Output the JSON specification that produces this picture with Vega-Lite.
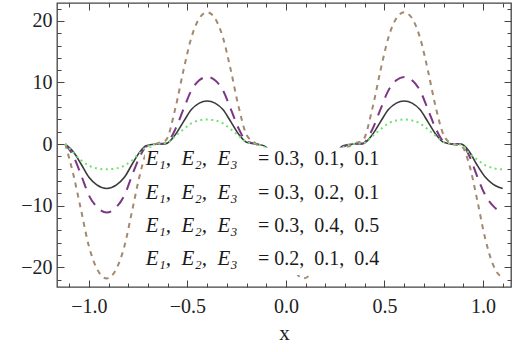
{
  "$schema": "https://vega.github.io/schema/vega-lite/v6.json",
  "width": 454,
  "height": 284,
  "autosize": "none",
  "padding": {"left": 57, "top": 3, "right": 3, "bottom": 65},
  "config": {
    "view": {"stroke": "#444444", "strokeWidth": 1.3},
    "axis": {"domain": false, "grid": false, "labelFont": "Liberation Serif", "labelFontSize": 20, "labelColor": "#222222", "titleFont": "Liberation Serif", "tickColor": "#444444", "tickWidth": 1}
  },
  "datasets": {
    "curves": [
      {"x":-1.12,"s":"k","y":0},{"x":-1.08,"s":"k","y":-1.22},{"x":-1.04,"s":"k","y":-3.24},{"x":-1.00,"s":"k","y":-5.4},{"x":-0.96,"s":"k","y":-6.62},{"x":-0.91,"s":"k","y":-7.2},{"x":-0.86,"s":"k","y":-6.62},{"x":-0.82,"s":"k","y":-5.4},{"x":-0.78,"s":"k","y":-3.24},{"x":-0.74,"s":"k","y":-1.22},{"x":-0.71,"s":"k","y":-0.29},{"x":-0.66,"s":"k","y":0},{"x":-0.61,"s":"k","y":0.07},{"x":-0.56,"s":"k","y":1.61},{"x":-0.52,"s":"k","y":3.64},{"x":-0.48,"s":"k","y":5.6},{"x":-0.44,"s":"k","y":6.65},{"x":-0.40,"s":"k","y":7.0},{"x":-0.36,"s":"k","y":6.65},{"x":-0.32,"s":"k","y":5.6},{"x":-0.28,"s":"k","y":3.64},{"x":-0.24,"s":"k","y":1.61},{"x":-0.20,"s":"k","y":0.28},{"x":-0.15,"s":"k","y":0},{"x":-0.11,"s":"k","y":-0.29},{"x":-0.07,"s":"k","y":-1.66},{"x":-0.03,"s":"k","y":-3.74},{"x":0.01,"s":"k","y":-5.76},{"x":0.05,"s":"k","y":-6.84},{"x":0.09,"s":"k","y":-7.2},{"x":0.13,"s":"k","y":-6.84},{"x":0.17,"s":"k","y":-5.76},{"x":0.21,"s":"k","y":-3.74},{"x":0.25,"s":"k","y":-1.66},{"x":0.29,"s":"k","y":-0.29},{"x":0.34,"s":"k","y":0},{"x":0.39,"s":"k","y":0.07},{"x":0.44,"s":"k","y":1.61},{"x":0.48,"s":"k","y":3.64},{"x":0.52,"s":"k","y":5.6},{"x":0.56,"s":"k","y":6.65},{"x":0.60,"s":"k","y":7.0},{"x":0.64,"s":"k","y":6.65},{"x":0.68,"s":"k","y":5.6},{"x":0.72,"s":"k","y":3.64},{"x":0.76,"s":"k","y":1.61},{"x":0.80,"s":"k","y":0.28},{"x":0.845,"s":"k","y":0},{"x":0.89,"s":"k","y":0},{"x":0.93,"s":"k","y":-1.2},{"x":0.97,"s":"k","y":-3.4},{"x":1.01,"s":"k","y":-5.3},{"x":1.05,"s":"k","y":-6.5},{"x":1.08,"s":"k","y":-7.0},{"x":1.10,"s":"k","y":-7.2},
      {"x":-1.12,"s":"p","y":0},{"x":-1.08,"s":"p","y":-1.89},{"x":-1.04,"s":"p","y":-5.0},{"x":-1.00,"s":"p","y":-8.33},{"x":-0.96,"s":"p","y":-10.21},{"x":-0.91,"s":"p","y":-11.1},{"x":-0.86,"s":"p","y":-10.21},{"x":-0.82,"s":"p","y":-8.33},{"x":-0.78,"s":"p","y":-5.0},{"x":-0.74,"s":"p","y":-1.89},{"x":-0.71,"s":"p","y":-0.44},{"x":-0.66,"s":"p","y":0},{"x":-0.61,"s":"p","y":0.11},{"x":-0.56,"s":"p","y":2.51},{"x":-0.52,"s":"p","y":5.67},{"x":-0.48,"s":"p","y":8.72},{"x":-0.44,"s":"p","y":10.36},{"x":-0.40,"s":"p","y":10.9},{"x":-0.36,"s":"p","y":10.36},{"x":-0.32,"s":"p","y":8.72},{"x":-0.28,"s":"p","y":5.67},{"x":-0.24,"s":"p","y":2.51},{"x":-0.20,"s":"p","y":0.44},{"x":-0.15,"s":"p","y":0},{"x":-0.11,"s":"p","y":-0.44},{"x":-0.07,"s":"p","y":-2.55},{"x":-0.03,"s":"p","y":-5.77},{"x":0.01,"s":"p","y":-8.88},{"x":0.05,"s":"p","y":-10.55},{"x":0.09,"s":"p","y":-11.1},{"x":0.13,"s":"p","y":-10.55},{"x":0.17,"s":"p","y":-8.88},{"x":0.21,"s":"p","y":-5.77},{"x":0.25,"s":"p","y":-2.55},{"x":0.29,"s":"p","y":-0.44},{"x":0.34,"s":"p","y":0},{"x":0.39,"s":"p","y":0.11},{"x":0.44,"s":"p","y":2.51},{"x":0.48,"s":"p","y":5.67},{"x":0.52,"s":"p","y":8.72},{"x":0.56,"s":"p","y":10.36},{"x":0.60,"s":"p","y":10.9},{"x":0.64,"s":"p","y":10.36},{"x":0.68,"s":"p","y":8.72},{"x":0.72,"s":"p","y":5.67},{"x":0.76,"s":"p","y":2.51},{"x":0.80,"s":"p","y":0.44},{"x":0.845,"s":"p","y":0},{"x":0.89,"s":"p","y":0},{"x":0.93,"s":"p","y":-1.9},{"x":0.97,"s":"p","y":-5.2},{"x":1.01,"s":"p","y":-8.2},{"x":1.05,"s":"p","y":-10.0},{"x":1.08,"s":"p","y":-10.8},{"x":1.10,"s":"p","y":-11.0},
      {"x":-1.12,"s":"b","y":0},{"x":-1.08,"s":"b","y":-4.8},{"x":-1.04,"s":"b","y":-10.7},{"x":-1.00,"s":"b","y":-16.6},{"x":-0.96,"s":"b","y":-20.2},{"x":-0.91,"s":"b","y":-21.8},{"x":-0.86,"s":"b","y":-20.2},{"x":-0.82,"s":"b","y":-16.6},{"x":-0.78,"s":"b","y":-10.7},{"x":-0.74,"s":"b","y":-4.8},{"x":-0.71,"s":"b","y":-1.5},{"x":-0.66,"s":"b","y":0},{"x":-0.61,"s":"b","y":0.6},{"x":-0.56,"s":"b","y":6.0},{"x":-0.52,"s":"b","y":12.0},{"x":-0.48,"s":"b","y":17.3},{"x":-0.44,"s":"b","y":20.4},{"x":-0.40,"s":"b","y":21.4},{"x":-0.36,"s":"b","y":20.4},{"x":-0.32,"s":"b","y":17.3},{"x":-0.28,"s":"b","y":12.0},{"x":-0.24,"s":"b","y":6.0},{"x":-0.20,"s":"b","y":1.5},{"x":-0.15,"s":"b","y":0},{"x":-0.11,"s":"b","y":-1.5},{"x":-0.07,"s":"b","y":-6.1},{"x":-0.03,"s":"b","y":-12.2},{"x":0.01,"s":"b","y":-17.7},{"x":0.05,"s":"b","y":-20.8},{"x":0.09,"s":"b","y":-21.8},{"x":0.13,"s":"b","y":-20.8},{"x":0.17,"s":"b","y":-17.7},{"x":0.21,"s":"b","y":-12.2},{"x":0.25,"s":"b","y":-6.1},{"x":0.29,"s":"b","y":-1.5},{"x":0.34,"s":"b","y":0},{"x":0.39,"s":"b","y":0.6},{"x":0.44,"s":"b","y":6.0},{"x":0.48,"s":"b","y":12.0},{"x":0.52,"s":"b","y":17.3},{"x":0.56,"s":"b","y":20.4},{"x":0.60,"s":"b","y":21.4},{"x":0.64,"s":"b","y":20.4},{"x":0.68,"s":"b","y":17.3},{"x":0.72,"s":"b","y":12.0},{"x":0.76,"s":"b","y":6.0},{"x":0.80,"s":"b","y":1.5},{"x":0.845,"s":"b","y":0},{"x":0.89,"s":"b","y":-0.3},{"x":0.93,"s":"b","y":-3.3},{"x":0.97,"s":"b","y":-9.0},{"x":1.01,"s":"b","y":-15.2},{"x":1.05,"s":"b","y":-19.5},{"x":1.08,"s":"b","y":-21.2},{"x":1.10,"s":"b","y":-21.6},
      {"x":-1.12,"s":"g","y":0},{"x":-1.08,"s":"g","y":-1.35},{"x":-1.04,"s":"g","y":-2.62},{"x":-1.00,"s":"g","y":-3.49},{"x":-0.96,"s":"g","y":-3.94},{"x":-0.91,"s":"g","y":-4.1},{"x":-0.86,"s":"g","y":-3.94},{"x":-0.82,"s":"g","y":-3.49},{"x":-0.78,"s":"g","y":-2.62},{"x":-0.74,"s":"g","y":-1.35},{"x":-0.71,"s":"g","y":-0.49},{"x":-0.66,"s":"g","y":0},{"x":-0.61,"s":"g","y":0.12},{"x":-0.56,"s":"g","y":1.32},{"x":-0.52,"s":"g","y":2.4},{"x":-0.48,"s":"g","y":3.36},{"x":-0.44,"s":"g","y":3.84},{"x":-0.40,"s":"g","y":4.0},{"x":-0.36,"s":"g","y":3.84},{"x":-0.32,"s":"g","y":3.36},{"x":-0.28,"s":"g","y":2.4},{"x":-0.24,"s":"g","y":1.32},{"x":-0.20,"s":"g","y":0.32},{"x":-0.15,"s":"g","y":0},{"x":-0.11,"s":"g","y":-0.49},{"x":-0.07,"s":"g","y":-1.72},{"x":-0.03,"s":"g","y":-2.87},{"x":0.01,"s":"g","y":-3.61},{"x":0.05,"s":"g","y":-4.0},{"x":0.09,"s":"g","y":-4.1},{"x":0.13,"s":"g","y":-4.0},{"x":0.17,"s":"g","y":-3.61},{"x":0.21,"s":"g","y":-2.87},{"x":0.25,"s":"g","y":-1.72},{"x":0.29,"s":"g","y":-0.49},{"x":0.34,"s":"g","y":0},{"x":0.39,"s":"g","y":0.12},{"x":0.44,"s":"g","y":1.32},{"x":0.48,"s":"g","y":2.4},{"x":0.52,"s":"g","y":3.36},{"x":0.56,"s":"g","y":3.84},{"x":0.60,"s":"g","y":4.0},{"x":0.64,"s":"g","y":3.84},{"x":0.68,"s":"g","y":3.36},{"x":0.72,"s":"g","y":2.4},{"x":0.76,"s":"g","y":1.32},{"x":0.80,"s":"g","y":0.32},{"x":0.845,"s":"g","y":0},{"x":0.89,"s":"g","y":-0.1},{"x":0.93,"s":"g","y":-1.5},{"x":0.97,"s":"g","y":-2.5},{"x":1.01,"s":"g","y":-3.4},{"x":1.05,"s":"g","y":-3.9},{"x":1.08,"s":"g","y":-4.08},{"x":1.10,"s":"g","y":-4.1}
    ],
    "one": [{"k": 1}]
  },
  "resolve": {"axis": {"x": "independent", "y": "independent"}},
  "layer": [
    {
      "data": {"name": "curves"},
      "transform": [{"filter": "datum.s === 'k'"}],
      "mark": {"type": "line", "interpolate": "monotone", "color": "#3a3a3a", "strokeWidth": 1.6},
      "encoding": {
        "x": {"field": "x", "type": "quantitative", "scale": {"domain": [-1.162, 1.142], "nice": false, "zero": false},
              "axis": {"orient": "bottom", "values": [-1, -0.5, 0, 0.5, 1], "format": ".1f", "ticks": false, "labelPadding": 9, "title": "x", "titleFontSize": 21, "titleFontWeight": "normal", "titleColor": "#222222", "titlePadding": 6}},
        "y": {"field": "y", "type": "quantitative", "scale": {"domain": [-23.2, 22.9], "nice": false, "zero": false},
              "axis": {"orient": "left", "values": [-20, -10, 0, 10, 20], "format": "d", "ticks": false, "labelPadding": 5, "title": null}}
      }
    },
    {
      "data": {"name": "curves"},
      "transform": [{"filter": "datum.s === 'p'"}],
      "mark": {"type": "line", "interpolate": "monotone", "color": "#7d3585", "strokeWidth": 2, "strokeDash": [11, 8]},
      "encoding": {
        "x": {"field": "x", "type": "quantitative", "axis": {"orient": "bottom", "values": [-1, -0.5, 0, 0.5, 1], "labels": false, "tickSize": -7, "title": null}},
        "y": {"field": "y", "type": "quantitative", "axis": {"orient": "left", "values": [-20, -10, 0, 10, 20], "labels": false, "tickSize": -7, "title": null}}
      }
    },
    {
      "data": {"name": "curves"},
      "transform": [{"filter": "datum.s === 'b'"}],
      "mark": {"type": "line", "interpolate": "monotone", "color": "#a3896d", "strokeWidth": 2, "strokeDash": [5, 5]},
      "encoding": {
        "x": {"field": "x", "type": "quantitative", "axis": {"orient": "bottom", "values": [-1.1, -0.9, -0.8, -0.7, -0.6, -0.4, -0.3, -0.2, -0.1, 0.1, 0.2, 0.3, 0.4, 0.6, 0.7, 0.8, 0.9, 1.1], "labels": false, "tickSize": -4, "title": null}},
        "y": {"field": "y", "type": "quantitative", "axis": {"orient": "left", "values": [-22, -18, -16, -14, -12, -8, -6, -4, -2, 2, 4, 6, 8, 12, 14, 16, 18, 22], "labels": false, "tickSize": -4, "title": null}}
      }
    },
    {
      "data": {"name": "curves"},
      "transform": [{"filter": "datum.s === 'g'"}],
      "mark": {"type": "line", "interpolate": "monotone", "color": "#6fe36f", "strokeWidth": 2, "strokeDash": [2, 3.5]},
      "encoding": {
        "x": {"field": "x", "type": "quantitative", "axis": {"orient": "top", "values": [-1, -0.5, 0, 0.5, 1], "labels": false, "tickSize": -7, "title": null}},
        "y": {"field": "y", "type": "quantitative", "axis": {"orient": "right", "values": [-20, -10, 0, 10, 20], "labels": false, "tickSize": -7, "title": null}}
      }
    },
    {
      "data": {"name": "one"},
      "mark": {"type": "rect", "color": "white", "strokeWidth": 0},
      "encoding": {
        "x": {"datum": -0.716, "type": "quantitative", "axis": {"orient": "top", "values": [-1.1, -0.9, -0.8, -0.7, -0.6, -0.4, -0.3, -0.2, -0.1, 0.1, 0.2, 0.3, 0.4, 0.6, 0.7, 0.8, 0.9, 1.1], "labels": false, "tickSize": -4, "title": null}},
        "x2": {"datum": 0.56},
        "y": {"datum": -0.55, "type": "quantitative", "axis": {"orient": "right", "values": [-22, -18, -16, -14, -12, -8, -6, -4, -2, 2, 4, 6, 8, 12, 14, 16, 18, 22], "labels": false, "tickSize": -4, "title": null}},
        "y2": {"datum": -21.25}
      }
    },
    {
      "data": {"name": "one"},
      "mark": {"type": "text", "text": ["E₁,\u00a0 E₂,\u00a0 E₃", "E₁,\u00a0 E₂,\u00a0 E₃", "E₁,\u00a0 E₂,\u00a0 E₃", "E₁,\u00a0 E₂,\u00a0 E₃"], "font": "Liberation Serif", "fontStyle": "italic", "fontSize": 21, "color": "#1a1a1a", "align": "left", "baseline": "middle", "lineHeight": 33.3},
      "encoding": {
        "x": {"datum": -0.712, "type": "quantitative", "axis": null},
        "y": {"datum": -2.5, "type": "quantitative", "axis": null}
      }
    },
    {
      "data": {"name": "one"},
      "mark": {"type": "text", "text": ["=\u00a00.3,\u00a0 0.1,\u00a0 0.1", "=\u00a00.3,\u00a0 0.2,\u00a0 0.1", "=\u00a00.3,\u00a0 0.4,\u00a0 0.5", "=\u00a00.2,\u00a0 0.1,\u00a0 0.4"], "font": "Liberation Serif", "fontSize": 20, "color": "#1a1a1a", "align": "left", "baseline": "middle", "lineHeight": 33.3},
      "encoding": {
        "x": {"datum": -0.142, "type": "quantitative", "axis": null},
        "y": {"datum": -2.5, "type": "quantitative", "axis": null}
      }
    }
  ]
}
